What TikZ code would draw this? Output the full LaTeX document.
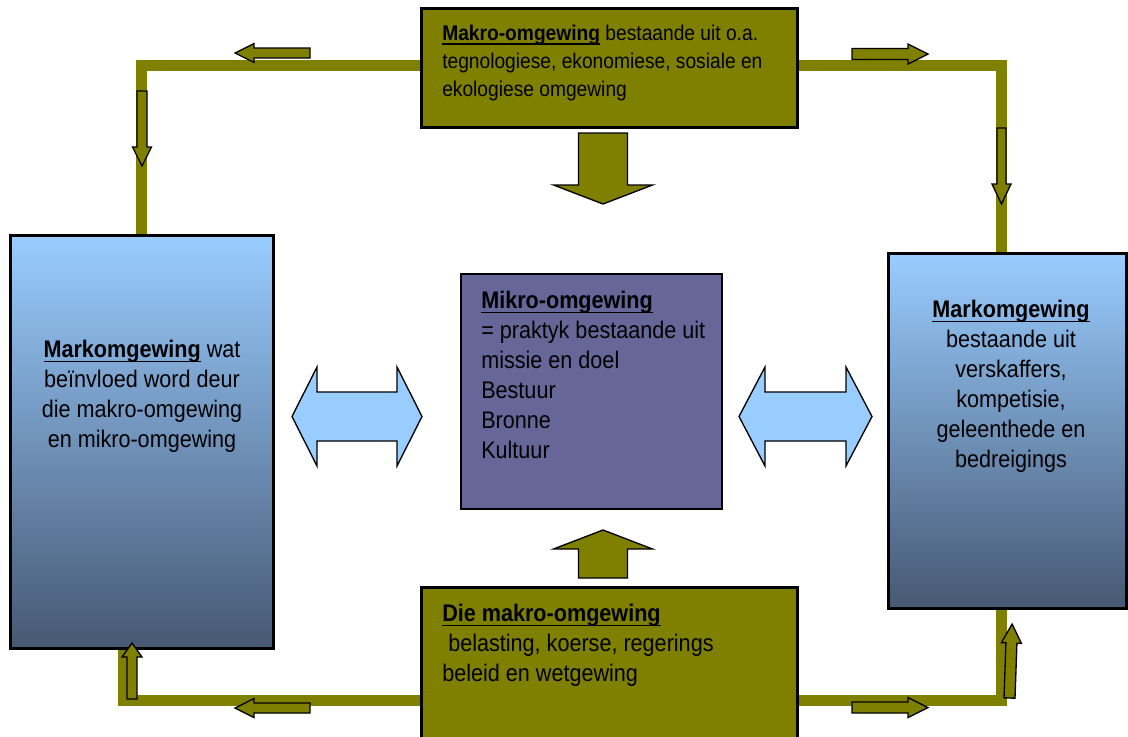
\documentclass[tikz,border=0pt]{standalone}
\usepackage{fontspec}
\setmainfont{Liberation Sans}[FakeStretch=0.9]
\usetikzlibrary{positioning}

\definecolor{olijf}{RGB}{128,128,0}
\definecolor{mikro}{RGB}{102,102,153}
\definecolor{ligblou}{RGB}{153,204,255}
\definecolor{donkerblou}{RGB}{70,88,115}

\newsavebox{\strepbox}
\newcommand{\onderstreep}[1]{\sbox{\strepbox}{#1}\rlap{\rule[-0.2em]{\wd\strepbox}{0.08em}}\usebox{\strepbox}}

\tikzset{
  olivebox/.style={draw=black, line width=1.2pt, fill=olijf, inner sep=0pt},
  markbox/.style={draw=black, line width=1.2pt, top color=ligblou, bottom color=donkerblou, inner sep=0pt},
  mikrobox/.style={draw=black, line width=1.2pt, fill=mikro, inner sep=0pt},
  frame/.style={olijf, line width=8.25pt, line join=miter},
  boxtext/.style={inner sep=0pt, font=\fontsize{18}{22.5}\selectfont},
  arrowline/.style={draw=black, line width=1pt, fill=olijf, line join=miter},
  twowayline/.style={draw=black, line width=1pt, fill=ligblou, line join=miter},
  pics/blockarrow/.style n args={4}{code={
    \draw[arrowline] (0,-#2) -- (#1-#4,-#2) -- (#1-#4,-#3) -- (#1,0)
      -- (#1-#4,#3) -- (#1-#4,#2) -- (0,#2) -- cycle;}},
  pics/twoway/.style n args={4}{code={
    \draw[twowayline] (0,0) -- (#4,-#3) -- (#4,-#2) -- (#1-#4,-#2) -- (#1-#4,-#3)
      -- (#1,0) -- (#1-#4,#3) -- (#1-#4,#2) -- (#4,#2) -- (#4,#3) -- cycle;}},
}

\begin{document}
\begin{tikzpicture}[x=0.75pt,y=-0.75pt]
    \useasboundingbox (0,0) rectangle (1128,736);
    \clip (0,0) rectangle (1128,736);

    % corners of the olive frame
    \coordinate (tl) at (141,65);
    \coordinate (tr) at (1001,65);
    \coordinate (bl) at (123,700);
    \coordinate (br) at (1001,700);

    % boxes
    \node[olivebox, minimum width=281.25pt, minimum height=88.5pt] (makro) at (609.5,68) {};
    \node[markbox, minimum width=196.5pt, minimum height=309pt] (markl) at (142,442) {};
    \node[markbox, minimum width=177.75pt, minimum height=265.5pt] (markr) at (1007.5,431) {};
    \node[mikrobox, minimum width=195.75pt, minimum height=176.25pt] (mikro) at (591.5,391.5) {};
    \node[olivebox, minimum width=281.25pt, minimum height=117.75pt] (wet) at (609.5,666.5) {};

    % frame lines
    \draw[frame] (makro.west |- tl) -- (tl) -- (tl |- markl.north);
    \draw[frame] (makro.east |- tr) -- (tr) -- (tr |- markr.north);
    \draw[frame] (wet.west |- bl) -- (bl) -- (bl |- markl.south);
    \draw[frame] (wet.east |- br) -- (br) -- (br |- markr.south);

    % redraw box borders over the frame ends
    \draw[line width=1.2pt] (makro.south west) rectangle (makro.north east);
    \draw[line width=1.2pt] (wet.south west) rectangle (wet.north east);
    \draw[line width=1.2pt] (markl.south west) rectangle (markl.north east);
    \draw[line width=1.2pt] (markr.south west) rectangle (markr.north east);

    % texts
    \node[boxtext, font=\fontsize{16}{21}\selectfont, anchor=north west, align=left] (makrotext) at (442,25)
        {\onderstreep{\textbf{Makro-omgewing}} bestaande uit o.a.\\
         tegnologiese, ekonomiese, sosiale en\\
         ekologiese omgewing};
    \node[boxtext, anchor=north west, align=left] (mikrotext) at (481,291)
        {\onderstreep{\textbf{Mikro-omgewing}}\\
         = praktyk bestaande uit\\
         missie en doel\\
         Bestuur\\
         Bronne\\
         Kultuur};
    \node[boxtext, anchor=north, align=center] (markltext) at (142,340)
        {\onderstreep{\textbf{Markomgewing}} wat\\
         beïnvloed word deur\\
         die makro-omgewing\\
         en mikro-omgewing};
    \node[boxtext, anchor=north, align=center] (markrtext) at (1011,300)
        {\onderstreep{\textbf{Markomgewing}}\\
         bestaande uit\\
         verskaffers,\\
         kompetisie,\\
         geleenthede en\\
         bedreigings};
    \node[boxtext, anchor=north west, align=left] (wettext) at (442,604)
        {\onderstreep{\textbf{Die makro-omgewing}}\\
         \hspace*{0.25em}belasting, koerse, regerings\\
         beleid en wetgewing};

    % big arrows into the mikro box
    \pic[rotate=-90] at (603,133) {blockarrow={71}{24.5}{49.5}{19}};
    \pic[rotate=90] at (603,578) {blockarrow={48}{24.5}{49.5}{19}};
    \pic at (292,416.5) {twoway={130}{24.5}{49.5}{25}};
    \pic at (739,416.5) {twoway={133}{24.5}{49.5}{26}};

    % small arrows along the frame
    \pic[rotate=180] at (310,53) {blockarrow={75}{5}{9.5}{19}};
    \pic[rotate=-90] at (142,91) {blockarrow={75}{5}{9.5}{19}};
    \pic at (852,54) {blockarrow={76}{5.5}{10}{20}};
    \pic[rotate=-90] at (1001.5,128) {blockarrow={76}{4.5}{9.5}{20}};
    \pic[rotate=90] at (132,699) {blockarrow={56}{5}{10}{14}};
    \pic[rotate=180] at (310,708) {blockarrow={75}{5}{9.5}{19}};
    \pic at (852,707.5) {blockarrow={76}{5.5}{10}{20}};
    \pic[rotate=88] at (1009.5,698) {blockarrow={74}{5.5}{10}{19}};
\end{tikzpicture}
\end{document}
